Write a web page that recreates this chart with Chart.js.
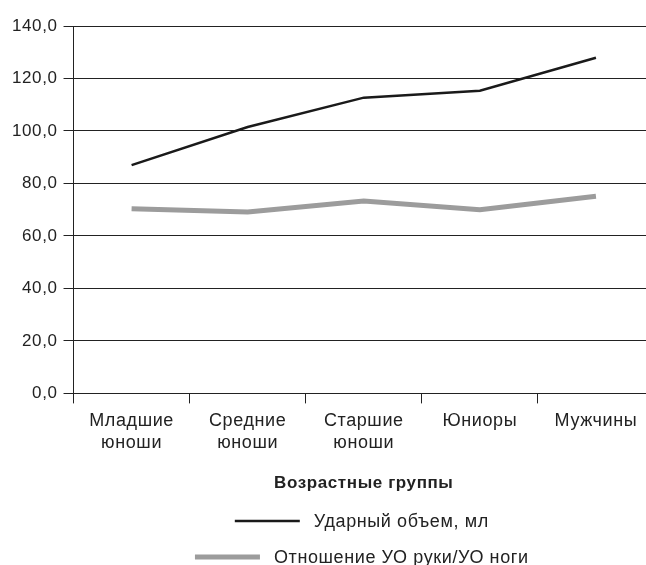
<!DOCTYPE html>
<html>
<head>
<meta charset="utf-8">
<script src="https://cdn.jsdelivr.net/npm/chart.js@4"></script>
<style>
  html, body { margin: 0; padding: 0; background: #fff; overflow: hidden; }
  #wrap { width: 646px; height: 565px; overflow: hidden; }
  #chart-sv { display: block; }
</style>
</head>
<body>
<div id="wrap"><canvas id="chart-sv" width="656" height="565"></canvas></div>
<script>
// age groups (two-line labels)
const labelsGroups = [
  ["Младшие", "юноши"],
  ["Средние", "юноши"],
  ["Старшие", "юноши"],
  "Юниоры",
  "Мужчины",
];
const dataStrokeVolume = [87.0, 101.5, 112.7, 115.3, 127.9];
const dataArmLegRatio = [70.4, 69.1, 73.3, 70.0, 75.1];
const yTicks = [0, 20, 40, 60, 80, 100, 120, 140];

const fontFamily = "'Liberation Sans', Arial, sans-serif";
const tracking = "0.6px";

// the printed font is slightly tracked; canvas resets drop it, so set it every pass
const letterSpacing = {
  id: "letterSpacing",
  beforeUpdate(chart) { chart.ctx.letterSpacing = tracking; },
  beforeLayout(chart) { chart.ctx.letterSpacing = tracking; },
  beforeDraw(chart) { chart.ctx.letterSpacing = tracking; },
};

// legend drawn in rows, one item per row, under the axis title
const stackedLegend = {
  id: "stackedLegend",
  afterDraw(chart) {
    const ctx = chart.ctx;
    const cx = (chart.chartArea.left + chart.chartArea.right) / 2 - 2;
    const rows = [521, 557];
    ctx.save();
    ctx.font = "18px " + fontFamily;
    ctx.textBaseline = "middle";
    chart.data.datasets.forEach((ds, i) => {
      const lineW = 65;
      const gap = 14;
      const textW = ctx.measureText(ds.label).width;
      const x0 = cx - (lineW + gap + textW) / 2;
      const y = rows[i];
      ctx.strokeStyle = ds.borderColor;
      ctx.lineWidth = ds.borderWidth;
      ctx.beginPath();
      ctx.moveTo(x0, y);
      ctx.lineTo(x0 + lineW, y);
      ctx.stroke();
      ctx.fillStyle = "#222";
      ctx.fillText(ds.label, x0 + lineW + gap, y + 1);
    });
    ctx.restore();
  },
};

const ctxSv = document.getElementById("chart-sv");
new Chart(ctxSv, {
  type: "line",
  data: {
    labels: labelsGroups,
    datasets: [
      {
        label: "Ударный объем, мл",
        data: dataStrokeVolume,
        borderColor: "#1a1a1a",
        backgroundColor: "#1a1a1a",
        borderWidth: 2.5,
        pointRadius: 0,
        tension: 0,
      },
      {
        label: "Отношение УО руки/УО ноги",
        data: dataArmLegRatio,
        borderColor: "#9c9c9c",
        backgroundColor: "#9c9c9c",
        borderWidth: 5,
        pointRadius: 0,
        tension: 0,
      },
    ],
  },
  options: {
    responsive: false,
    animation: false,
    layout: { padding: { top: 26, right: 2, bottom: 71, left: 6 } },
    plugins: {
      legend: { display: false },
      tooltip: { enabled: false },
    },
    scales: {
      x: {
        offset: true,
        grid: {
          display: true,
          offset: true,
          drawOnChartArea: false,
          drawTicks: true,
          tickLength: 10,
          color: "#222",
          lineWidth: 1,
        },
        border: { display: true, color: "#222", width: 1 },
        ticks: {
          color: "#222",
          font: { family: fontFamily, size: 18, lineHeight: 1.2 },
          padding: 7,
          maxRotation: 0,
          autoSkip: false,
        },
        title: {
          display: true,
          text: "Возрастные группы",
          color: "#222",
          font: { family: fontFamily, size: 17, weight: "bold" },
          padding: { top: 13, bottom: 0 },
        },
      },
      y: {
        min: 0,
        max: 140,
        afterBuildTicks: (axis) => {
          axis.ticks = yTicks.map((v) => ({ value: v }));
        },
        grid: {
          color: "#222",
          lineWidth: 1,
          tickLength: 10,
        },
        border: { display: true, color: "#222", width: 1 },
        ticks: {
          color: "#222",
          font: { family: fontFamily, size: 17 },
          padding: 6,
          callback: (v) => v.toFixed(1).replace(".", ","),
        },
      },
    },
  },
  plugins: [letterSpacing, stackedLegend],
});
</script>
</body>
</html>
